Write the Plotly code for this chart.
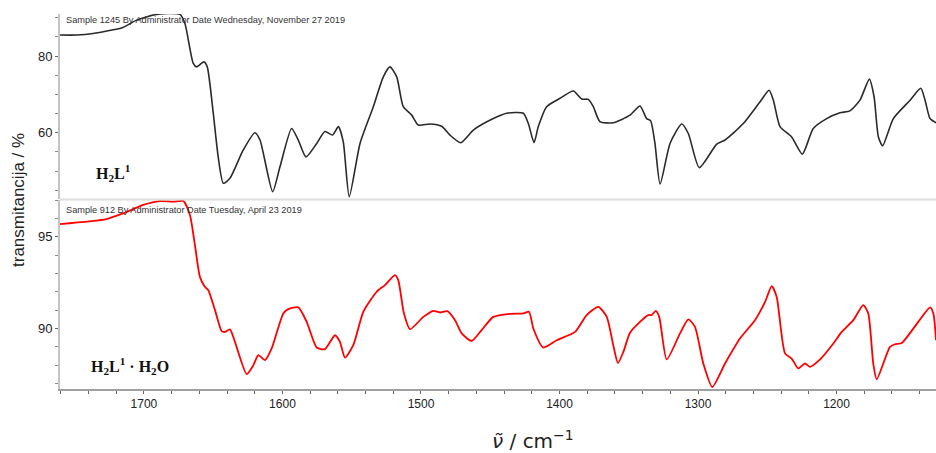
import plotly.graph_objects as go

# --- data ---
wn_top = [1760.6, 1748.6, 1736.8, 1715.2, 1705.3, 1690.8, 1674.0, 1670.4, 1664.4, 1662.0,
          1656.7, 1654.3, 1650.2, 1646.4, 1642.7, 1637.9, 1628.3, 1619.9, 1616.2, 1607.1,
          1601.8, 1593.4, 1588.6, 1583.0, 1575.3, 1569.3, 1563.8, 1559.6, 1556.1, 1551.8,
          1544.0, 1534.4, 1527.2, 1522.4, 1517.5, 1512.8, 1506.7, 1501.9, 1493.5, 1485.1,
          1479.1, 1471.3, 1462.2, 1447.8, 1438.1, 1426.1, 1422.5, 1418.4, 1415.3, 1409.3,
          1399.6, 1390.0, 1384.0, 1379.2, 1375.6, 1370.8, 1361.2, 1349.1, 1341.9, 1337.1,
          1334.2, 1331.1, 1327.4, 1320.2, 1311.8, 1307.0, 1299.1, 1286.5, 1280.5, 1267.3,
          1255.2, 1248.7, 1245.6, 1240.8, 1232.4, 1224.7, 1216.8, 1207.1, 1197.5, 1190.3,
          1183.1, 1176.3, 1172.9, 1169.8, 1166.7, 1159.0, 1146.9, 1139.2, 1136.1, 1132.5,
          1128.2]
t_top = [85.5, 85.5, 85.9, 87.5, 89.4, 90.9, 90.9, 88.5, 78.1, 77.2,
         78.5, 77.2, 65.9, 53.7, 46.8, 48.1, 55.5, 60.0, 58.1, 44.6,
         51.1, 61.1, 58.1, 53.7, 57.2, 60.3, 59.4, 61.6, 57.6, 43.3,
         57.2, 66.8, 74.6, 77.2, 74.6, 66.8, 64.6, 62.0, 62.3, 61.7,
         59.4, 57.4, 60.7, 63.7, 65.1, 65.1, 62.4, 57.4, 61.6, 66.8,
         69.0, 70.9, 68.8, 68.7, 66.8, 62.9, 62.6, 64.6, 67.0, 63.7,
         63.1, 57.2, 46.6, 57.2, 62.3, 59.8, 50.9, 57.0, 58.1, 62.4,
         68.1, 71.1, 68.5, 61.6, 58.9, 54.4, 61.1, 63.7, 65.2, 65.7,
         68.5, 74.0, 69.4, 58.9, 56.6, 63.7, 68.5, 71.6, 68.5, 63.7,
         62.6]

wn_bot = [1760.6, 1727.1, 1715.1, 1700.5, 1688.4, 1678.8, 1671.6, 1666.8, 1663.2, 1659.6,
          1656.0, 1653.6, 1648.7, 1643.9, 1641.5, 1637.9, 1634.3, 1625.8, 1621.0, 1617.4,
          1612.6, 1607.8, 1599.4, 1595.8, 1588.6, 1582.5, 1575.3, 1569.3, 1562.1, 1558.5,
          1554.9, 1548.9, 1541.6, 1532.0, 1526.0, 1518.8, 1516.4, 1512.3, 1507.9, 1498.3,
          1491.1, 1486.3, 1481.0, 1475.4, 1470.6, 1463.4, 1456.2, 1447.8, 1435.7, 1426.1,
          1422.0, 1418.9, 1411.7, 1402.0, 1388.8, 1380.4, 1372.0, 1365.9, 1361.2, 1357.8,
          1353.9, 1349.1, 1341.9, 1335.9, 1333.4, 1330.5, 1328.0, 1322.6, 1313.0, 1307.0,
          1302.2, 1296.2, 1289.7, 1280.5, 1269.7, 1258.9, 1251.6, 1246.8, 1243.2, 1237.2,
          1232.4, 1227.6, 1222.8, 1219.1, 1211.9, 1202.3, 1196.3, 1187.9, 1180.7, 1177.1,
          1173.5, 1171.0, 1161.4, 1157.8, 1152.9, 1141.0, 1132.5, 1130.1, 1128.2]
t_bot = [95.69, 95.96, 96.27, 96.73, 96.94, 96.91, 96.94, 96.18, 94.54, 92.81,
         92.27, 92.09, 91.00, 89.85, 89.81, 89.95, 89.27, 87.51, 88.00, 88.54,
         88.27, 88.91, 90.82, 91.05, 91.15, 90.36, 88.96, 88.87, 89.63, 89.27,
         88.41, 89.09, 90.91, 92.00, 92.36, 92.91, 92.63, 90.82, 89.96, 90.63,
         90.96, 90.87, 90.94, 90.45, 89.73, 89.32, 89.91, 90.63, 90.80, 90.82,
         90.91, 90.00, 88.96, 89.36, 89.81, 90.73, 91.18, 90.63, 89.09, 88.11,
         88.72, 89.77, 90.36, 90.73, 90.73, 90.96, 90.63, 88.31, 89.73, 90.49,
         90.09, 88.09, 86.81, 88.09, 89.45, 90.45, 91.45, 92.31, 91.72, 88.64,
         88.36, 87.82, 88.09, 87.91, 88.31, 89.18, 89.81, 90.45, 91.27, 90.82,
         88.09, 87.23, 89.00, 89.14, 89.21, 90.36, 91.15, 90.82, 89.36]

x_ticks = [1700, 1600, 1500, 1400, 1300, 1200]
header_top = "Sample 1245 By Administrator Date Wednesday, November 27 2019"
header_bot = "Sample 912 By Administrator Date Tuesday, April 23 2019"
label_top = "H<sub>2</sub>L<sup>1</sup>"
label_bot = "H<sub>2</sub>L<sup>1</sup> · H<sub>2</sub>O"
y_title = "transmitancija / %"
x_title = "<i>ν̃</i> / cm<sup>−1</sup>"

fig = go.Figure()
fig.add_trace(go.Scatter(x=wn_top, y=t_top, xaxis="x", yaxis="y2", mode="lines",
                         line=dict(color="#2a2a2a", width=1.6, shape="spline", smoothing=0.6),
                         showlegend=False, hoverinfo="skip"))
fig.add_trace(go.Scatter(x=wn_bot, y=t_bot, xaxis="x", yaxis="y", mode="lines",
                         line=dict(color="#ff0000", width=1.8, shape="spline", smoothing=0.6),
                         showlegend=False, hoverinfo="skip"))

W, H = 936, 453
ml, mr, mt, mb = 60, 0, 14, 64
ph = H - mt - mb

def py(pix):
    return (H - mb - pix) / ph

def px(pix):
    return (pix - ml) / (W - ml - mr)

axis_font = dict(family="Liberation Sans, Arial, sans-serif", size=13, color="#222")
fig.update_layout(
    width=W, height=H,
    margin=dict(l=ml, r=mr, t=mt, b=mb),
    paper_bgcolor="white", plot_bgcolor="white",
    font=dict(family="Liberation Sans, Arial, sans-serif"),
    xaxis=dict(range=[1760.6, 1128.2], tickvals=x_ticks, ticks="outside", ticklen=3,
               tickcolor="#666", tickwidth=1, showline=True, linecolor="#a0a0a0", linewidth=2,
               showgrid=False, zeroline=False, anchor="y",
               tickfont=dict(family="Liberation Sans Narrow, Liberation Sans, Arial", size=12, color="#222"),
               minor=dict(dtick=20, ticks="outside", ticklen=3, tickcolor="#666", showgrid=False)),
    yaxis=dict(domain=[0, py(200)], range=[86.7, 97.0], dtick=5, tick0=0, ticks="outside",
               ticklen=3, tickcolor="#666", showline=True, linecolor="#c4c4c4", linewidth=2,
               showgrid=False, zeroline=False, tickfont=axis_font, anchor="x",
               minor=dict(dtick=1, ticks="outside", ticklen=3, tickcolor="#888", showgrid=False)),
    yaxis2=dict(domain=[py(199), 1.0], range=[42.7, 91.0], dtick=20, tick0=0, ticks="outside",
                ticklen=3, tickcolor="#666", showline=True, linecolor="#c4c4c4", linewidth=2,
                showgrid=False, zeroline=False, tickfont=axis_font, anchor="x",
                minor=dict(dtick=5, ticks="outside", ticklen=3, tickcolor="#888", showgrid=False)),
)

# separator between the two panels
fig.add_shape(type="line", xref="paper", yref="paper", x0=0, x1=1, y0=py(199.5), y1=py(199.5),
              line=dict(color="#dcdcdc", width=2))

for text, xp, ypix in [(header_top, 64, 20), (header_bot, 64, 210)]:
    fig.add_annotation(text=text, xref="paper", yref="paper", x=px(xp), y=py(ypix),
                       xanchor="left", yanchor="middle", showarrow=False,
                       font=dict(family="Liberation Sans, Arial", size=9.2, color="#333"))

serif = "Liberation Serif, Times New Roman, serif"
fig.add_annotation(text="<b>" + label_top + "</b>", xref="paper", yref="paper",
                   x=px(94), y=py(173), xanchor="left", yanchor="middle",
                   showarrow=False, font=dict(family=serif, size=16, color="#111"))
fig.add_annotation(text="<b>" + label_bot + "</b>", xref="paper", yref="paper",
                   x=px(89), y=py(366), xanchor="left", yanchor="middle",
                   showarrow=False, font=dict(family=serif, size=16, color="#111"))

fig.add_annotation(text=y_title, xref="paper", yref="paper", x=px(18), y=py(200),
                   xanchor="center", yanchor="middle", textangle=-90, showarrow=False,
                   font=dict(family="Liberation Sans, Arial, sans-serif", size=17, color="#222"))
fig.add_annotation(text=x_title, xref="paper", yref="paper", x=px(533), y=py(440),
                   xanchor="center", yanchor="middle", showarrow=False,
                   font=dict(family="DejaVu Sans, Liberation Sans, sans-serif", size=20, color="#222"))

fig.write_html("out.html")
